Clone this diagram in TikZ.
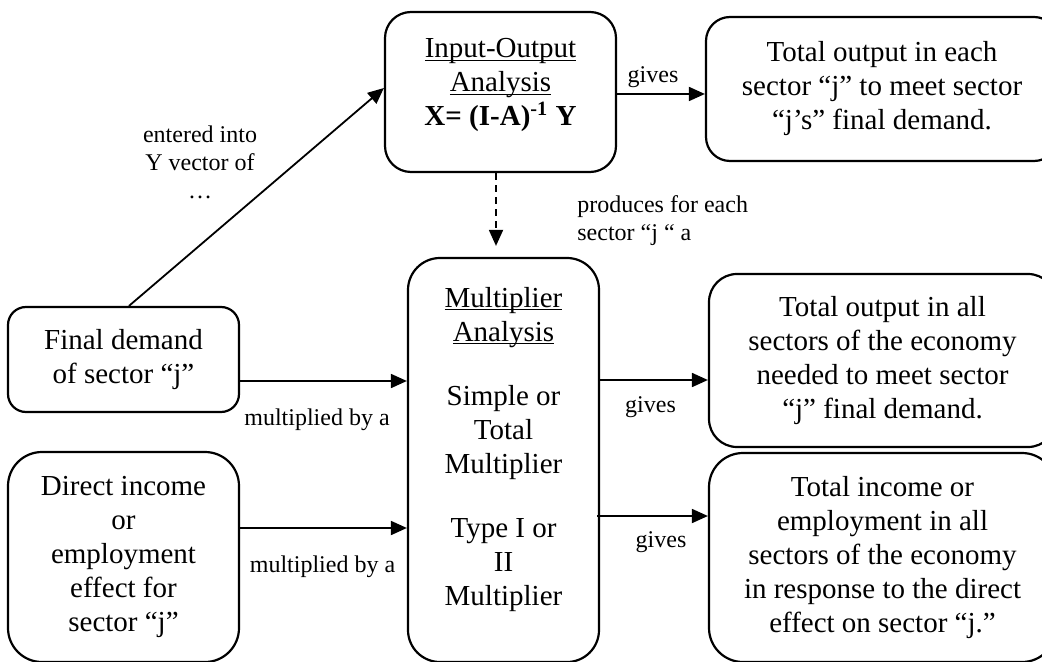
\documentclass[tikz,border=0pt]{standalone}
\usepackage{fontspec}
\setmainfont{Liberation Serif}
\usetikzlibrary{arrows.meta}
\newcommand\undl[1]{\underline{\raisebox{0pt}[\height][0pt]{#1}}}

\begin{document}
\begin{tikzpicture}[>={Triangle[length=8pt,width=7pt]}, x=0.5pt, y=-0.5pt,
  box/.style={draw, line width=1.1pt, rounded corners=#1, align=center, inner sep=0pt,
    font=\fontsize{14.5}{17}\selectfont},
  lbl/.style={font=\fontsize{12}{14}\selectfont, inner sep=1pt},
  arr/.style={->, line width=0.9pt}]
  \useasboundingbox (0,0) rectangle (1042,662);
  \clip (0,0) rectangle (1042,662);
  % boxes
  \node[box=13pt, minimum width=115.5pt, minimum height=80pt, text depth=10pt] (io) at (500.5,92)
    {\undl{Input-Output}\\\undl{Analysis}\\\textbf{X= (I-A)\textsuperscript{-1} Y}};
  \node[box=12pt, minimum width=176pt, minimum height=72pt] (tr) at (882,89)
    {Total output in each\\sector “j” to meet sector\\“j’s” final demand.};
  \node[box=16pt, minimum width=95.5pt, minimum height=202pt, text depth=14pt] (mult) at (503.5,460)
    {\undl{Multiplier}\\\undl{Analysis}\\[15pt]Simple or\\Total\\Multiplier\\[15pt]Type I or\\II\\Multiplier};
  \node[box=9pt, minimum width=115.5pt, minimum height=52.5pt] (fd) at (123.5,359.5)
    {Final demand\\of sector “j”};
  \node[box=17pt, minimum width=115.5pt, minimum height=105pt] (di) at (123.5,557)
    {Direct income\\or\\employment\\effect for\\sector “j”};
  \node[box=14pt, minimum width=173.5pt, minimum height=86.5pt] (mr) at (882.5,360.5)
    {Total output in all\\sectors of the economy\\needed to meet sector\\“j” final demand.};
  \node[box=17pt, minimum width=173.5pt, minimum height=104.5pt] (lr) at (882.5,557.5)
    {Total income or\\employment in all\\sectors of the economy\\in response to the direct\\effect on sector “j.”};
  % arrows
  \draw[arr] ([xshift=2.75pt]fd.north) -- ([yshift=2pt]io.west);
  \draw[arr] ([yshift=-1pt]io.east) -- ([yshift=-1pt]io.east -| tr.west);
  \draw[arr, dash pattern=on 3.5pt off 2.5pt] ([xshift=-2.25pt]io.south) -- ([xshift=-3.75pt,yshift=5.5pt]mult.north);
  \draw[arr] ([yshift=-10.75pt]fd.east) -- ([yshift=-10.75pt]fd.east -| mult.west);
  \draw[arr] ([yshift=14.5pt]di.east) -- ([yshift=14.5pt]di.east -| mult.west);
  \draw[arr] ([yshift=40pt]mult.east) -- ([yshift=40pt]mult.east -| mr.west);
  \draw[arr] ([xshift=-1.5pt,yshift=-28pt]mult.east) -- ([yshift=-28pt]mult.east -| lr.west);
  % labels
  \node[lbl, align=center] (entered) at (200,162) {entered into\\Y vector of\\…};
  \node[lbl, anchor=base] (gives1) at (653,83) {gives};
  \node[lbl, align=left, anchor=west] (produces) at (575,220.5) {produces for each\\sector “j “ a};
  \node[lbl, anchor=base] (multby1) at (317,425) {multiplied by a};
  \node[lbl, anchor=base] (multby2) at (322.5,572) {multiplied by a};
  \node[lbl, anchor=base] (gives2) at (650.5,412) {gives};
  \node[lbl, anchor=base] (gives3) at (661,547) {gives};
\end{tikzpicture}
\end{document}
